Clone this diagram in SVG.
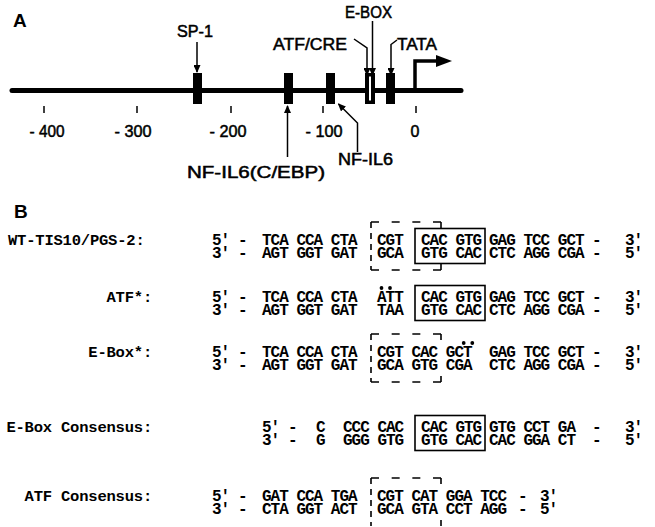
<svg xmlns="http://www.w3.org/2000/svg" width="655" height="527" viewBox="0 0 655 527">
<defs>
<style>
.s{font-family:"Liberation Sans",Arial,sans-serif;font-size:16px;fill:#000;stroke:#000;stroke-width:0.5}
.h{font-family:"Liberation Sans",Arial,sans-serif;font-size:19px;font-weight:bold;fill:#000}
.m{font-family:"Liberation Mono","DejaVu Sans Mono",monospace;font-size:16px;letter-spacing:-1px;font-weight:bold;fill:#000}
.l{font-family:"Liberation Mono","DejaVu Sans Mono",monospace;font-size:15.5px;letter-spacing:-0.2px;font-weight:bold;fill:#000}
.ln{stroke:#000;fill:none;stroke-width:1.5}
.bx{stroke:#000;fill:none;stroke-width:1.6}
.dv{stroke:#000;fill:none;stroke-width:1.6;stroke-dasharray:6 5}
.dh{stroke:#000;fill:none;stroke-width:1.6;stroke-dasharray:8 12.67}
.tk{stroke:#000;stroke-width:1.5}
</style>
<marker id="ah" markerUnits="userSpaceOnUse" markerWidth="8" markerHeight="7" refX="7" refY="3.5" orient="auto">
<path d="M0,0 L8,3.5 L0,7 z" fill="#000"/>
</marker>
</defs>
<rect width="655" height="527" fill="#fff"/>

<!-- Panel A -->
<text class="h" x="13" y="27">A</text>
<g id="promoter-line">
<line x1="12" y1="90.5" x2="461" y2="90.5" stroke="#000" stroke-width="5" stroke-linecap="round"/>
<line class="tk" x1="44" y1="106" x2="44" y2="113"/>
<line class="tk" x1="137" y1="106" x2="137" y2="113"/>
<line class="tk" x1="231" y1="106" x2="231" y2="113"/>
<line class="tk" x1="323" y1="106" x2="323" y2="113"/>
<line class="tk" x1="416" y1="106" x2="416" y2="113"/>
<text class="s" x="47" y="137" text-anchor="middle" textLength="35" lengthAdjust="spacingAndGlyphs">- 400</text>
<text class="s" x="133" y="137" text-anchor="middle" textLength="37" lengthAdjust="spacingAndGlyphs">- 300</text>
<text class="s" x="228" y="137" text-anchor="middle" textLength="37" lengthAdjust="spacingAndGlyphs">- 200</text>
<text class="s" x="324" y="137" text-anchor="middle" textLength="37" lengthAdjust="spacingAndGlyphs">- 100</text>
<text class="s" x="415" y="137" text-anchor="middle">0</text>
</g>
<g id="sp1">
<rect x="193" y="73" width="9" height="31" fill="#000"/>
<text class="s" x="177" y="37" textLength="36" lengthAdjust="spacingAndGlyphs">SP-1</text>
</g>
<g id="nfil6-cebp">
<rect x="284" y="73" width="9" height="31" fill="#000"/>
<text class="s" x="187" y="178" textLength="138" lengthAdjust="spacingAndGlyphs">NF-IL6(C/EBP)</text>
</g>
<g id="nfil6">
<rect x="326" y="73" width="9" height="31" fill="#000"/>
<text class="s" x="338" y="165" textLength="55" lengthAdjust="spacingAndGlyphs">NF-IL6</text>
</g>
<g id="atf-cre">
<rect x="365" y="73" width="10" height="31" fill="#000"/>
<rect x="369" y="76.5" width="2" height="24" fill="#fff"/>
<text class="s" x="273" y="50" textLength="74" lengthAdjust="spacingAndGlyphs">ATF/CRE</text>
</g>
<g id="e-box">
<text class="s" x="345" y="18" textLength="47" lengthAdjust="spacingAndGlyphs">E-BOX</text>
</g>
<g id="tata">
<rect x="386" y="73" width="9" height="31" fill="#000"/>
<text class="s" x="397" y="50" textLength="40" lengthAdjust="spacingAndGlyphs">TATA</text>
</g>
<g id="tss">
<polyline points="415,90 415,61 438,61" fill="none" stroke="#000" stroke-width="3.5"/>
<polygon points="436,55 452,61 436,67" fill="#000"/>
</g>
<g id="connectors">
<line class="ln" x1="197" y1="42" x2="197" y2="72" marker-end="url(#ah)"/>
<polyline class="ln" points="354,39 367,48 367,75" marker-end="url(#ah)"/>
<line class="ln" x1="372.5" y1="21" x2="372.5" y2="75" marker-end="url(#ah)"/>
<polyline class="ln" points="397,40 391,44.5 391,75" marker-end="url(#ah)"/>
<line class="ln" x1="287.5" y1="157" x2="287.5" y2="106" marker-end="url(#ah)"/>
<polyline class="ln" points="357.5,152 357.5,123 338.5,104" marker-end="url(#ah)"/>
</g>

<!-- Panel B -->
<text class="h" x="14" y="218">B</text>

<g id="wt">
<text class="l" x="8" y="245">WT-TIS10/PGS-2:</text>
<text class="m" x="212" y="245">5′</text><text class="m" x="238" y="245">-</text>
<text class="m" x="262" y="245">TCA CCA CTA</text><text class="m" x="377" y="245">CGT</text>
<text class="m" x="421" y="245">CAC GTG</text><text class="m" x="489" y="245">GAG TCC GCT</text>
<text class="m" x="592" y="245">-</text><text class="m" x="625" y="245">3′</text>
<text class="m" x="212" y="258">3′</text><text class="m" x="238" y="258">-</text>
<text class="m" x="262" y="258">AGT GGT GAT</text><text class="m" x="377" y="258">GCA</text>
<text class="m" x="421" y="258">GTG CAC</text><text class="m" x="489" y="258">CTC AGG CGA</text>
<text class="m" x="592" y="258">-</text><text class="m" x="625" y="258">5′</text>
<line class="dv" x1="371" y1="222" x2="371" y2="270"/>
<line class="dh" x1="371" y1="222" x2="441" y2="222"/>
<line class="dh" x1="371" y1="270" x2="441" y2="270"/>
<line class="bx" x1="441" y1="222" x2="441" y2="228"/>
<line class="bx" x1="441" y1="264" x2="441" y2="270"/>
<rect class="bx" x="415" y="228.5" width="70" height="35"/>
</g>

<g id="atf-mut">
<text class="l" x="152" y="302" text-anchor="end">ATF*:</text>
<text class="m" x="212" y="302">5′</text><text class="m" x="238" y="302">-</text>
<text class="m" x="262" y="302">TCA CCA CTA</text><text class="m" x="377" y="302">ATT</text>
<text class="m" x="421" y="302">CAC GTG</text><text class="m" x="489" y="302">GAG TCC GCT</text>
<text class="m" x="592" y="302">-</text><text class="m" x="625" y="302">3′</text>
<text class="m" x="212" y="315">3′</text><text class="m" x="238" y="315">-</text>
<text class="m" x="262" y="315">AGT GGT GAT</text><text class="m" x="377" y="315">TAA</text>
<text class="m" x="421" y="315">GTG CAC</text><text class="m" x="489" y="315">CTC AGG CGA</text>
<text class="m" x="592" y="315">-</text><text class="m" x="625" y="315">5′</text>
<circle cx="381.5" cy="288" r="1.9"/><circle cx="390" cy="288" r="1.9"/>
<rect class="bx" x="415" y="285.5" width="70" height="35"/>
</g>

<g id="ebox-mut">
<text class="l" x="152" y="357" text-anchor="end">E-Box*:</text>
<text class="m" x="212" y="357">5′</text><text class="m" x="238" y="357">-</text>
<text class="m" x="262" y="357">TCA CCA CTA</text><text class="m" x="377" y="357">CGT CAC GCT</text>
<text class="m" x="489" y="357">GAG TCC GCT</text>
<text class="m" x="592" y="357">-</text><text class="m" x="625" y="357">3′</text>
<text class="m" x="212" y="370">3′</text><text class="m" x="238" y="370">-</text>
<text class="m" x="262" y="370">AGT GGT GAT</text><text class="m" x="377" y="370">GCA GTG CGA</text>
<text class="m" x="489" y="370">CTC AGG CGA</text>
<text class="m" x="592" y="370">-</text><text class="m" x="625" y="370">5′</text>
<circle cx="463.7" cy="343" r="1.9"/><circle cx="472.3" cy="343" r="1.9"/>
<line class="dv" x1="371" y1="334" x2="371" y2="382"/>
<line class="dh" x1="371" y1="334" x2="441" y2="334"/>
<line class="dh" x1="371" y1="382" x2="441" y2="382"/>
<line class="bx" x1="441" y1="334" x2="441" y2="340"/>
<line class="bx" x1="441" y1="376" x2="441" y2="382"/>
</g>

<g id="ebox-consensus">
<text class="l" x="152" y="432" text-anchor="end">E-Box Consensus:</text>
<text class="m" x="262" y="432">5′</text><text class="m" x="288" y="432">-</text>
<text class="m" x="316" y="432">C</text><text class="m" x="343" y="432">CCC CAC</text>
<text class="m" x="421" y="432">CAC GTG</text><text class="m" x="489" y="432">GTG CCT GA</text>
<text class="m" x="592" y="432">-</text><text class="m" x="625" y="432">3′</text>
<text class="m" x="262" y="445">3′</text><text class="m" x="288" y="445">-</text>
<text class="m" x="316" y="445">G</text><text class="m" x="343" y="445">GGG GTG</text>
<text class="m" x="421" y="445">GTG CAC</text><text class="m" x="489" y="445">CAC GGA CT</text>
<text class="m" x="592" y="445">-</text><text class="m" x="625" y="445">5′</text>
<rect class="bx" x="415" y="415.5" width="70" height="35"/>
</g>

<g id="atf-consensus">
<text class="l" x="152" y="501" text-anchor="end">ATF Consensus:</text>
<text class="m" x="212" y="501">5′</text><text class="m" x="238" y="501">-</text>
<text class="m" x="262" y="501">GAT CCA TGA</text><text class="m" x="377" y="501">CGT CAT GGA TCC</text>
<text class="m" x="518" y="501">-</text><text class="m" x="540" y="501">3′</text>
<text class="m" x="212" y="514">3′</text><text class="m" x="238" y="514">-</text>
<text class="m" x="262" y="514">CTA GGT ACT</text><text class="m" x="377" y="514">GCA GTA CCT AGG</text>
<text class="m" x="518" y="514">-</text><text class="m" x="540" y="514">5′</text>
<line class="dv" x1="371" y1="478" x2="371" y2="526"/>
<line class="dh" x1="371" y1="478" x2="441" y2="478"/>
<line class="bx" x1="441" y1="478" x2="441" y2="484"/>
<line class="bx" x1="441" y1="520" x2="441" y2="526"/>
</g>
</svg>
